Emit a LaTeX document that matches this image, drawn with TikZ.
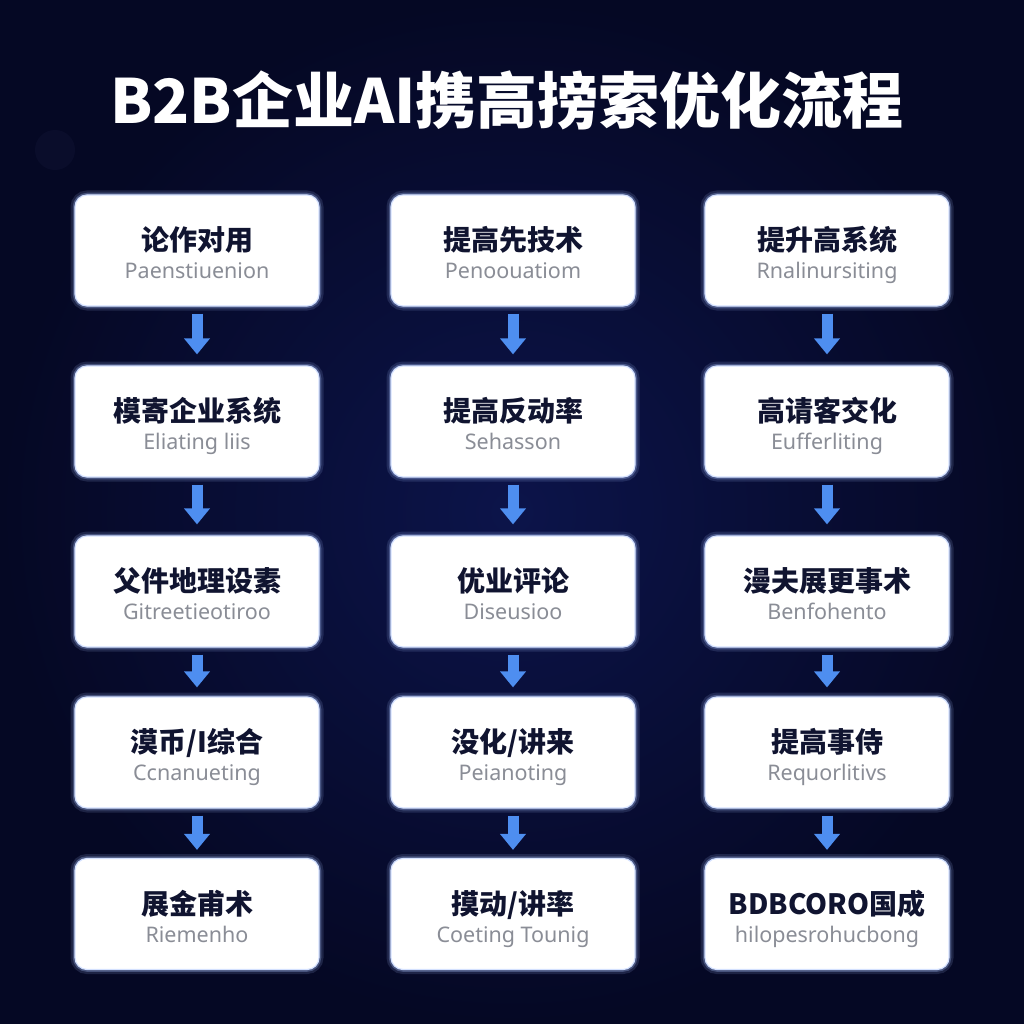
\documentclass[tikz,border=0pt]{standalone}
\usepackage{fontspec}
\setmainfont{Noto Sans CJK SC}
\newfontfamily\subfont{Noto Sans}
\usetikzlibrary{positioning,arrows.meta}
\definecolor{bgin}{RGB}{12,20,74}
\definecolor{bgout}{RGB}{5,8,36}
\definecolor{glowc}{RGB}{170,195,255}
\definecolor{cntext}{RGB}{16,20,48}
\definecolor{entext}{RGB}{138,141,150}
\definecolor{arrc}{RGB}{78,142,240}
\tikzset{
  box/.style={rounded corners=12pt, fill=white, draw=glowc!50!white, line width=1.2pt,
    minimum width=244pt, minimum height=111pt, inner sep=0pt,
    preaction={draw=glowc, line width=9pt, opacity=.15},
    preaction={draw=glowc, line width=4.5pt, opacity=.3}},
  cnt/.style={font=\bfseries\fontsize{28}{30}\selectfont, text=cntext, inner sep=0pt, anchor=base},
  ent/.style={font=\subfont\fontsize{21.5}{24}\selectfont, text=entext, inner sep=0pt, anchor=base},
  flowarr/.style={draw=arrc, line width=11pt, -{Triangle[width=25pt,length=16pt]}},
}
% one box with its chinese name and its english line
\newcommand{\flowbox}[4]{%
  \node[box] (#1) at (#2) {};
  \node[cnt] (#1c) at (#1.center) {#3};
  \node[ent] (#1e) at ([yshift=-28pt]#1.center) {#4};
}
\begin{document}
\begin{tikzpicture}[x=1pt,y=-1pt]  % ------ B2B flow, 3 columns -----------
\shade[inner color=bgin, outer color=bgout] (0,0) rectangle (1024,1024);
\useasboundingbox (0,0) rectangle (1024,1024);
\fill[bgin!85!white, opacity=.12] (55,150) circle (20);
\node[font=\bfseries\fontsize{61}{64}\selectfont, text=white] (title) at (507,100) {B2B企业AI携高搒索优化流程};
% left column
\flowbox{A1}{197,250.5}{论作对用}{Paenstiuenion}
\flowbox{A2}{197,421.5}{模寄企业系统}{Eliating liis}
\flowbox{A3}{197,591.5}{父件地理设素}{Gitreetieotiroo}
\flowbox{A4}{197,752.5}{漠币/I综合}{Ccnanueting}
\flowbox{A5}{197,914}{展金甫术}{Riemenho}
% middle column
\flowbox{B1}{513,250.5}{提高先技术}{Penoouatiom}
\flowbox{B2}{513,421.5}{提高反动率}{Sehasson}
\flowbox{B3}{513,591.5}{优业评论}{Diseusioo}
\flowbox{B4}{513,752.5}{没化/讲来}{Peianoting}
\flowbox{B5}{513,914}{摸动/讲率}{Coeting Tounig}
% right column
\flowbox{C1}{827,250.5}{提升高系统}{Rnalinursiting}
\flowbox{C2}{827,421.5}{高请客交化}{Eufferliting}
\flowbox{C3}{827,591.5}{漫夫展更事术}{Benfohento}
\flowbox{C4}{827,752.5}{提高事侍}{Requorlitivs}
\flowbox{C5}{827,914}{BDBCORO国成}{hilopesrohucbong}
% arrows
\foreach \c in {A,B,C}{
  \draw[flowarr] ([yshift=-7pt]\c1.south) -- ([yshift=11pt]\c2.north);
  \draw[flowarr] ([yshift=-7pt]\c2.south) -- ([yshift=11pt]\c3.north);
  \draw[flowarr] ([yshift=-7pt]\c3.south) -- ([yshift=9pt]\c4.north);
  \draw[flowarr] ([yshift=-7pt]\c4.south) -- ([yshift=8pt]\c5.north);
}
\end{tikzpicture}
\end{document}
